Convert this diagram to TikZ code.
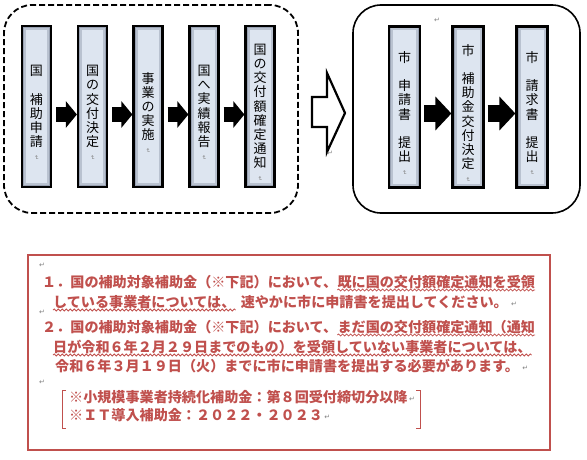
\documentclass[tikz,border=0pt]{standalone}
\usepackage{fontspec}
\setmainfont{Noto Sans CJK JP}
\newfontfamily\djv{DejaVu Sans}
\usetikzlibrary{arrows.meta,calc,decorations.pathmorphing}
\definecolor{noteRed}{RGB}{192,80,77}
\definecolor{boxFill}{RGB}{221,229,240}
\definecolor{boxEdge}{RGB}{120,130,150}
\newcommand\vmark{\makebox[0pt][r]{\makebox[1em]{\raisebox{-9pt}[0pt][0pt]{\djv\fontsize{6}{6}\selectfont\color{gray}\rotatebox{-90}{↵}}}}}
\begin{document}
\begin{tikzpicture}[x=1pt,y=-1pt,
  stepbox/.style={draw=black, line width=2.2pt, fill=boxFill, minimum width=29pt, minimum height=161pt,
    inner sep=0pt, align=center, font=\fontsize{13}{14.2}\selectfont,
    path picture={
      \draw[boxEdge, line width=8pt, opacity=0.35] (path picture bounding box.south west) rectangle (path picture bounding box.north east);
      \draw[boxEdge, line width=4pt, opacity=0.5] (path picture bounding box.south west) rectangle (path picture bounding box.north east);}},
  flow/.style={line width=15pt, -{Triangle[width=26pt,length=11pt]}, black},
  flowR/.style={line width=17pt, -{Triangle[width=33pt,length=16pt]}, black},
  note/.style={text=noteRed, font=\fontsize{14.1}{14.1}\selectfont\bfseries, anchor=base west, inner sep=0pt},
  wavy/.style={draw=noteRed, line width=0.8pt, decorate, decoration={snake, amplitude=1pt, segment length=4pt}},
  pm/.style={inner sep=0pt, text=gray, font=\djv\fontsize{7}{7}\selectfont}
]
\useasboundingbox (0,0) rectangle (587,460);

% group frames
\node[draw, dash pattern=on 6pt off 3pt, line width=1.8pt, rounded corners=28pt,
      minimum width=294pt, minimum height=208pt] (grpL) at (151,109) {};
\node[draw, line width=1.6pt, rounded corners=28pt,
      minimum width=227pt, minimum height=208pt] (grpR) at (466.5,109) {};

% left steps
\node[stepbox] (s1) at (36.5,106.5) {国\\　\\補\\助\\申\\請\vmark};
\node[stepbox] (s2) at (92.5,106.5) {国\\の\\交\\付\\決\\定\vmark};
\node[stepbox] (s3) at (148,106.5) {事\\業\\の\\実\\施\vmark};
\node[stepbox] (s4) at (204,106.5) {国\\へ\\実\\績\\報\\告\vmark};
\node[stepbox] (s5) at (260,106.5) {国\\の\\交\\付\\額\\確\\定\\通\\知\vmark};
\foreach \a/\b in {s1/s2,s2/s3,s3/s4,s4/s5}
  \draw[flow] ($(\a.east)+(4,8)$) -- ($(\b.west)+(0,8)$);

% right steps
\node[stepbox, minimum width=31pt] (r1) at (404.5,107) {市\\　\\申\\請\\書\\　\\提\\出\vmark};
\node[stepbox, minimum width=31pt] (r2) at (468,107) {市\\　\\補\\助\\金\\交\\付\\決\\定\vmark};
\node[stepbox, minimum width=31pt] (r3) at (532,107) {市\\　\\請\\求\\書\\　\\提\\出\vmark};
\foreach \a/\b in {r1/r2,r2/r3}
  \draw[flowR] ($(\a.east)+(3,6.5)$) -- ($(\b.west)+(0,6.5)$);

% hollow arrow
\draw[line width=2.2pt, fill=white, line join=miter]
  (312,97) -- (327,97) -- (327,73) -- (345,113) -- (327,152) -- (327,127) -- (312,127) -- cycle;
\node[pm] (pmA) at (330,153) {↵};
\node[pm] (pmB) at (437,20) {↵};

% note box
\node[draw=noteRed, line width=2pt, minimum width=522pt, minimum height=195pt] (noteBox) at (289,352.5) {};
\node[pm] (pm1) at (42,265) {↵};
\node[note] (l1a) at (42,287) {１．国の補助対象補助金（※下記）において、};
\node[note] (l1b) at (l1a.base east) {既に国の交付額確定通知を受領};
\draw[wavy] ($(l1b.base west)+(0,3)$) -- ($(l1b.base east)+(0,3)$);
\node[note] (l2a) at (53,307) {している事業者については、};
\node[note] (l2b) at ($(l2a.base east)+(5,0)$) {速やかに市に申請書を提出してください。};
\draw[wavy] ($(l2a.base west)+(0,3)$) -- ($(l2a.base east)+(0,3)$);
\node[pm, anchor=base west] (pm2) at ($(l2b.base east)+(3,-1)$) {↵};
\node[pm] (pm3) at (42,312) {↵};
\node[note] (l3a) at (42,332) {２．国の補助対象補助金（※下記）において、};
\node[note] (l3b) at (l3a.base east) {まだ国の交付額確定通知（通知};
\draw[wavy] ($(l3b.base west)+(0,3)$) -- ($(l3b.base east)+(0,3)$);
\node[note] (l4) at (53,352) {日が令和６年２月２９日までのもの）を受領していない事業者については、};
\draw[wavy] ($(l4.base west)+(0,3)$) -- ($(l4.base east)+(0,3)$);
\node[note] (l5) at (55,371) {令和６年３月１９日（火）までに市に申請書を提出する必要があります。};
\node[pm, anchor=base west] (pm4) at ($(l5.base east)+(3,-1)$) {↵};
\node[pm] (pm5) at (42,382) {↵};

% bracketed list
\node[note] (b1) at (69,402) {※小規模事業者持続化補助金：第８回受付締切分以降};
\node[pm, anchor=base west] (pm6) at ($(b1.base east)+(1,-1)$) {↵};
\node[note] (b2) at (69,420) {※ＩＴ導入補助金：２０２２・２０２３};
\node[pm, anchor=base west] (pm7) at ($(b2.base east)+(1,-1)$) {↵};
\draw[noteRed, line width=1pt] (66,390) -- (62,390) -- (62,428) -- (66,428);
\draw[noteRed, line width=1pt] (416,390) -- (420,390) -- (420,428) -- (416,428);
\end{tikzpicture}
\end{document}
